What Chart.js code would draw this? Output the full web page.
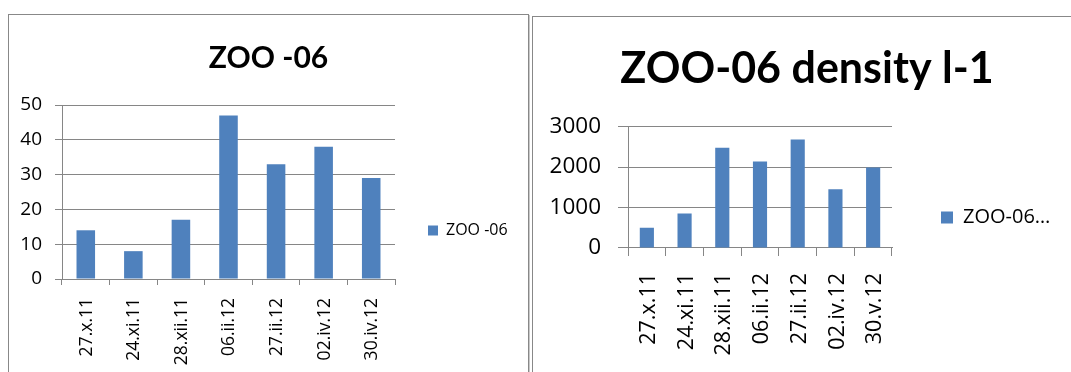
<!DOCTYPE html>
<html>
<head>
<meta charset="utf-8">
<script src="https://cdn.jsdelivr.net/npm/chart.js@4.4.1/dist/chart.umd.min.js"></script>
<style>
  html, body { margin: 0; padding: 0; background: #fff; }
  body { width: 1071px; height: 372px; overflow: hidden; position: relative; }
  .frame {
    position: absolute;
    border: 1px solid #888;
    box-shadow: 1px 1px 0 0 #c8c8c8;
    background: #fff;
  }
  #frameLeft  { left: 8px;   top: 14px; width: 519px; height: 431px; }
  #frameRight { left: 532px; top: 16px; width: 548px; height: 401px; }
  canvas { display: block; }
</style>
</head>
<body>
<div class="frame" id="frameLeft"><canvas id="countChart" width="519" height="431"></canvas></div>
<div class="frame" id="frameRight"><canvas id="densityChart" width="548" height="401"></canvas></div>
<script>
// Sampling dates and ZOO-06 counts
const countDates  = ['27.x.11', '24.xi.11', '28.xii.11', '06.ii.12', '27.ii.12', '02.iv.12', '30.iv.12'];
const countValues = [14, 8, 17, 47, 33, 38, 29];
const countTitle  = 'ZOO -06';
const countSeries = 'ZOO -06';
const countTicks  = { min: 0, max: 50, step: 10 };

// Sampling dates and ZOO-06 density (individuals per litre)
const densityDates  = ['27.x.11', '24.xi.11', '28.xii.11', '06.ii.12', '27.ii.12', '02.iv.12', '30.v.12'];
const densityValues = [500, 850, 2480, 2140, 2680, 1450, 1990];
const densityTitle  = 'ZOO-06 density l-1';
const densitySeries = 'ZOO-06…';
const densityTicks  = { min: 0, max: 3000, step: 1000 };

const BAR_BLUE = '#4f81bd';
const GRID_GREY = '#868686';
const TEXT_FONT = '"Open Sans", "Noto Sans", "Liberation Sans", sans-serif';
const TITLE_FONT = 'Lato, "Open Sans", "Liberation Sans", sans-serif';

Chart.defaults.font.family = TEXT_FONT;
Chart.defaults.color = '#000';

// Keeps the right-hand legend column at a fixed width so the plot area lines up
const fixedLegendWidth = {
  id: 'fixedLegendWidth',
  beforeLayout(chart, args, opts) {
    const legend = chart.legend;
    if (legend && !legend._fixedWidth) {
      const fit = legend.fit.bind(legend);
      legend.fit = function () { fit(); this.width = opts.width; };
      legend._fixedWidth = true;
    }
  }
};

function barChart(canvasId, labels, values, title, series, ticks, look) {
  return new Chart(document.getElementById(canvasId), {
    type: 'bar',
    data: {
      labels: labels,
      datasets: [{
        label: series,
        data: values,
        backgroundColor: BAR_BLUE,
        borderWidth: 0,
        categoryPercentage: 1,
        barPercentage: look.barPct
      }]
    },
    plugins: [fixedLegendWidth],
    options: {
      responsive: false,
      animation: false,
      layout: { padding: 0 },
      plugins: {
        fixedLegendWidth: { width: look.legendWidth },
        title: {
          display: true,
          text: title,
          color: '#000',
          font: { family: TITLE_FONT, size: look.titleSize, weight: 'bold', lineHeight: 1.2 },
          padding: { top: look.titleTop, bottom: look.titleBottom }
        },
        legend: {
          position: 'right',
          align: 'center',
          labels: {
            boxWidth: look.box,
            boxHeight: look.box,
            padding: look.legendGap,
            color: '#000',
            font: { size: look.legendSize }
          }
        },
        tooltip: { enabled: false }
      },
      scales: {
        x: {
          grid: { display: true, drawOnChartArea: false, drawTicks: true, tickLength: look.xTick, color: GRID_GREY },
          border: { display: true, color: GRID_GREY },
          ticks: {
            autoSkip: false,
            minRotation: 90,
            maxRotation: 90,
            padding: look.xPad,
            labelOffset: look.xShift,
            font: { size: look.xTickSize }
          },
          afterFit(scale) { scale.height = look.xAxisHeight; }
        },
        y: {
          min: ticks.min,
          max: ticks.max,
          grid: { color: GRID_GREY, tickLength: look.yTick },
          border: { display: true, color: GRID_GREY },
          ticks: {
            stepSize: ticks.step,
            padding: look.yPad,
            font: { size: look.yTickSize },
            callback: (value) => String(value)
          },
          afterFit(scale) { scale.width = look.yAxisWidth; }
        }
      }
    }
  });
}

barChart('countChart', countDates, countValues, countTitle, countSeries, countTicks, {
  barPct: 0.39,
  titleSize: 30, titleTop: 25, titleBottom: 29,
  legendWidth: 133, legendGap: 33, box: 10, legendSize: 16,
  xTickSize: 17.5, yTickSize: 19,
  xTick: 6, xPad: 13, xShift: 1, xAxisHeight: 167,
  yTick: 7, yPad: 13, yAxisWidth: 53
});

barChart('densityChart', densityDates, densityValues, densityTitle, densitySeries, densityTicks, {
  barPct: 0.375,
  titleSize: 43, titleTop: 26, titleBottom: 32,
  legendWidth: 189, legendGap: 49, box: 12, legendSize: 20,
  xTickSize: 21.5, yTickSize: 22.5,
  xTick: 8, xPad: 17, xShift: 2, xAxisHeight: 170,
  yTick: 10, yPad: 17, yAxisWidth: 95
});
</script>
</body>
</html>
